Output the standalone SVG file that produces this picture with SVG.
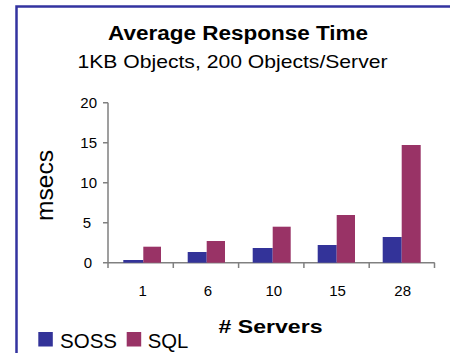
<svg xmlns="http://www.w3.org/2000/svg" width="450" height="353" viewBox="0 0 450 353">
  <style>
    text { font-family: "Liberation Sans", Arial, sans-serif; fill: #000; }
    .title { font-size: 19.5px; font-weight: bold; }
    .sub { font-size: 19px; }
    .tick { font-size: 15px; }
    .axt { font-size: 18.5px; font-weight: bold; }
    .leg { font-size: 20.5px; }
    .ylab { font-size: 23px; }
    .soss { fill: #333399; }
    .sql { fill: #993366; }
    .axis { stroke: #808080; stroke-width: 1.5; fill: none; }
    .frame { stroke: #3333a0; stroke-width: 2.5; fill: none; }
  </style>

  <!-- chart frame -->
  <path class="frame" d="M16.5,353 V6.5 H450"/>

  <!-- titles -->
  <g id="title">
    <text class="title" x="108" y="40" textLength="260" lengthAdjust="spacingAndGlyphs">Average Response Time</text>
    <text class="sub" x="77.5" y="68" textLength="310" lengthAdjust="spacingAndGlyphs">1KB Objects, 200 Objects/Server</text>
  </g>

  <!-- axes -->
  <g id="axes">
    <path class="axis" d="M108,102.7 V262.7 M103,102.7 H108 M103,142.7 H108 M103,182.7 H108 M103,222.7 H108 M103,262.7 H434.7"/>
    <path class="axis" d="M108,262.7 V268 M173.3,262.7 V268 M238.6,262.7 V268 M303.9,262.7 V268 M369.2,262.7 V268 M434.5,262.7 V268"/>
    <g class="tick" text-anchor="end">
      <text x="97" y="107.8">20</text>
      <text x="97" y="147.8">15</text>
      <text x="97" y="187.8">10</text>
      <text x="91" y="227.8">5</text>
      <text x="92" y="267.5">0</text>
    </g>
    <g class="tick" text-anchor="middle">
      <text x="142.7" y="295.5">1</text>
      <text x="207.8" y="295.5">6</text>
      <text x="273.8" y="295.5">10</text>
      <text x="337.5" y="295.5">15</text>
      <text x="402.7" y="295.5">28</text>
    </g>
    <text class="axt" x="218.5" y="333.3" textLength="104" lengthAdjust="spacingAndGlyphs"># Servers</text>
    <text class="ylab" transform="translate(52.5,221) rotate(-90)" x="0" y="0" textLength="71" lengthAdjust="spacingAndGlyphs">msecs</text>
  </g>

  <!-- bars: 8 px per msec, baseline y=262.7 -->
  <g id="series-soss" class="soss">
    <rect x="123.3" y="260" width="20" height="2.7"/>
    <rect x="187.7" y="252" width="19" height="10.7"/>
    <rect x="252.7" y="248" width="20" height="14.7"/>
    <rect x="317.7" y="245" width="19" height="17.7"/>
    <rect x="382.7" y="237" width="19" height="25.7"/>
  </g>
  <g id="series-sql" class="sql">
    <rect x="143.3" y="246.7" width="17.7" height="16"/>
    <rect x="206.7" y="241" width="18.3" height="21.7"/>
    <rect x="272.7" y="226.7" width="18" height="36"/>
    <rect x="336.7" y="215" width="18.3" height="47.7"/>
    <rect x="401.7" y="145" width="19" height="117.7"/>
  </g>

  <!-- legend -->
  <g id="legend">
    <rect class="soss" x="38.3" y="332" width="14.5" height="14.5"/>
    <text class="leg" x="60" y="347.5" textLength="57" lengthAdjust="spacingAndGlyphs">SOSS</text>
    <rect class="sql" x="126.7" y="332" width="14.5" height="14.5"/>
    <text class="leg" x="147.7" y="347.5" textLength="40.6" lengthAdjust="spacingAndGlyphs">SQL</text>
  </g>
</svg>
